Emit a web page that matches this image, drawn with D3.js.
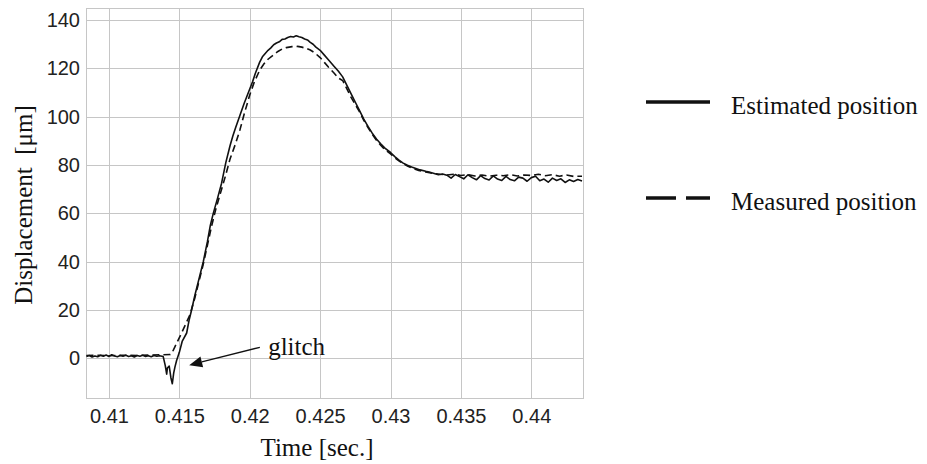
<!DOCTYPE html>
<html>
<head>
<meta charset="utf-8">
<script src="https://cdn.jsdelivr.net/npm/d3@7"></script>
<style>
  body { margin: 0; background: #fff; }
  svg { display: block; }
</style>
</head>
<body>
<svg id="chart" width="927" height="464"></svg>
<script>
// Data

// estimated position (solid line) - time [s], displacement [um]
var estTime = [
  0.4084, 0.4086, 0.4088, 0.4090, 0.4092, 0.4094, 0.4096, 0.4098, 0.4100, 0.4102,
  0.4104, 0.4106, 0.4108, 0.4110, 0.4112, 0.4114, 0.4116, 0.4118, 0.4120, 0.4122,
  0.4124, 0.4126, 0.4128, 0.4130, 0.4132, 0.4134, 0.4136, 0.41385, 0.4140, 0.4141,
  0.41415, 0.41428, 0.4144, 0.4145, 0.4146, 0.41469, 0.4148, 0.4150, 0.4152, 0.41552,
  0.4157, 0.41587, 0.4161, 0.4164, 0.4167, 0.4170, 0.4172, 0.41741, 0.4177, 0.4180,
  0.4183, 0.4186, 0.4188, 0.4190, 0.4193, 0.4196, 0.4198, 0.4200, 0.4202, 0.4204,
  0.4207, 0.4209, 0.4211, 0.4213, 0.4215, 0.4217, 0.4219, 0.4221, 0.4223, 0.4225,
  0.4227, 0.4229, 0.4231, 0.4233, 0.4235, 0.4237, 0.4239, 0.4241, 0.4243, 0.4245,
  0.4247, 0.4250, 0.4253, 0.4256, 0.4260, 0.4263, 0.4266, 0.4269, 0.4272, 0.4275,
  0.4278, 0.4281, 0.4284, 0.4287, 0.4290, 0.4293, 0.4296, 0.4300, 0.4303, 0.4306,
  0.4309, 0.4312, 0.4315, 0.4318, 0.4321, 0.4325, 0.4328, 0.4331, 0.4334, 0.4337,
  0.4340, 0.4343, 0.4346, 0.4349, 0.4352, 0.4355, 0.4358, 0.4361, 0.4364, 0.4367,
  0.4370, 0.4373, 0.4376, 0.4379, 0.4382, 0.4385, 0.4388, 0.4391, 0.4394, 0.4397,
  0.4400, 0.4403, 0.4406, 0.4409, 0.4412, 0.4415, 0.4418, 0.4421, 0.4424, 0.4427,
  0.4430, 0.4433, 0.4436
];
var estPos = [
  0.8, 1.2, 0.6, 1.0, 0.7, 1.3, 0.9, 1.4, 0.8, 1.5,
  1.0, 0.7, 1.2, 0.9, 1.3, 0.8, 1.1, 0.6, 1.2, 0.9,
  1.3, 0.8, 1.1, 0.7, 1.2, 0.9, 1.1, 0.8, -3.0, -6.5,
  -4.0, -3.2, -8.0, -10.5, -6.0, -3.5, -1.0, 2.5, 7.0, 10.5,
  16, 20, 26, 33, 40, 48.5, 55, 60, 66, 72.5,
  81, 88, 92, 95.5, 100.5, 105.5, 108.5, 111.5, 114.5, 118,
  122.5, 124.8, 126.2, 127.5, 128.5, 129.8, 130.5, 131, 132, 132.2,
  132.8, 133.2, 133, 133.5, 133.1, 132.8, 132.2, 131.8, 130.8, 130,
  128.8, 127.5, 125.5, 123.5, 120.8, 118.8, 116.5, 113, 109.5, 106,
  102.5, 99, 96, 93.2, 90.8, 88.8, 87, 85.2, 83.5, 82,
  80.8, 79.9, 79.2, 78.6, 78, 77.4, 77.0, 76.5, 76.0, 76.3,
  75.8, 74.6, 76.1, 75.2, 74.3, 76.0, 74.8, 73.9, 75.6, 74.4,
  73.8, 75.5, 74.2, 73.6, 75.3, 74.0, 73.5, 75.0, 74.6, 73.3,
  74.8, 75.4, 73.5, 74.2, 72.9, 74.6, 73.6, 74.3, 72.8, 73.9,
  73.2, 74.0, 73.4
];

// measured position (dashed line)
var measTime = [
  0.4084, 0.4090, 0.4100, 0.4110, 0.4120, 0.4130, 0.4138, 0.41435, 0.4145, 0.4147,
  0.41516, 0.41575, 0.4161, 0.4164, 0.4167, 0.4170, 0.4173, 0.4176, 0.4180, 0.4183,
  0.4186, 0.4190, 0.4193, 0.4196, 0.4200, 0.4203, 0.4207, 0.4210, 0.4213, 0.4217,
  0.4220, 0.4223, 0.4226, 0.4230, 0.4234, 0.4237, 0.4240, 0.4243, 0.4246, 0.4250,
  0.4253, 0.4256, 0.4260, 0.4263, 0.4266, 0.4269, 0.4272, 0.4275, 0.4278, 0.4281,
  0.4284, 0.4287, 0.4290, 0.4293, 0.4296, 0.4300, 0.4304, 0.4308, 0.4312, 0.4316,
  0.4320, 0.4325, 0.4330, 0.4335, 0.4340, 0.4345, 0.4350, 0.4355, 0.4360, 0.4365,
  0.4370, 0.4375, 0.4380, 0.4385, 0.4390, 0.4395, 0.4400, 0.4405, 0.4410, 0.4415,
  0.4420, 0.4425, 0.4430, 0.4436
];
var measPos = [
  1.2, 1.3, 1.1, 1.3, 1.2, 1.4, 1.5, 1.6, 2.5, 5,
  10.5, 18, 25, 32, 39, 47, 55, 62, 70, 76,
  82.5, 89, 94.5, 101, 109, 114, 119.2, 121.8, 123.8, 125.6,
  127, 128, 128.6, 129, 129.1, 128.8, 128.3, 127.6, 126.5, 124.5,
  122.5, 120.5, 118, 116, 115, 111.5, 108, 105, 102, 98.5,
  95.5, 92.8, 90.3, 88.2, 86.4, 84.6, 82.6, 80.9, 79.6, 78.6,
  77.8, 77.1, 76.6, 76.2, 75.9, 76.2, 75.7, 76.0, 75.5, 75.9,
  75.4, 75.8, 75.6, 76.0, 75.5, 75.9, 75.7, 76.2, 75.6, 76.0,
  75.4, 75.9, 75.3, 75.4
];

var xTicks = [0.41, 0.415, 0.42, 0.425, 0.43, 0.435, 0.44];
var yTicks = [0, 20, 40, 60, 80, 100, 120, 140];
var xDomain = [0.40837, 0.44367];
var yDomain = [-16.4, 145];

var legendLabels = ['Estimated position', 'Measured position'];

// glitch note: label anchor and arrow (data coords)
var glitchText = 'glitch';
var glitchLabel = [0.42131, 1.4];
var glitchArrow = [[0.42072, 4.6], [0.41570, -2.8]];

// Layout
var svg = d3.select('#chart');
var plot = { left: 86, right: 583, top: 8, bottom: 398 };
var gridColor = '#c6c6c6';
var sans = 'Liberation Sans, Arial, sans-serif';
var serif = 'Liberation Serif, Times New Roman, serif';

var x = d3.scaleLinear().domain(xDomain).range([plot.left, plot.right]);
var y = d3.scaleLinear().domain(yDomain).range([plot.bottom, plot.top]);

// grid
var grid = svg.append('g');
grid.selectAll('.vg').data(xTicks).enter().append('line')
    .attr('x1', function(d) { return Math.round(x(d)) + 0.5; })
    .attr('x2', function(d) { return Math.round(x(d)) + 0.5; })
    .attr('y1', plot.top).attr('y2', plot.bottom)
    .attr('stroke', gridColor).attr('stroke-width', 1);
grid.selectAll('.hg').data(yTicks).enter().append('line')
    .attr('x1', plot.left).attr('x2', plot.right)
    .attr('y1', function(d) { return Math.round(y(d)) + 0.5; })
    .attr('y2', function(d) { return Math.round(y(d)) + 0.5; })
    .attr('stroke', gridColor).attr('stroke-width', 1);

// frame
svg.append('rect')
    .attr('x', plot.left + 0.5).attr('y', plot.top + 0.5)
    .attr('width', plot.right - plot.left).attr('height', plot.bottom - plot.top)
    .attr('fill', 'none').attr('stroke', gridColor).attr('stroke-width', 1);

// tick labels
var xAxis = svg.append('g')
    .attr('transform', 'translate(0,' + plot.bottom + ')')
    .call(d3.axisBottom(x).tickValues(xTicks).tickSize(0).tickPadding(11)
        .tickFormat(function(d) { return String(+d.toFixed(3)); }));
var yAxis = svg.append('g')
    .attr('transform', 'translate(' + plot.left + ',0)')
    .call(d3.axisLeft(y).tickValues(yTicks).tickSize(0).tickPadding(6));
[xAxis, yAxis].forEach(function(a) {
    a.select('.domain').remove();
    a.selectAll('text')
        .attr('font-family', sans)
        .attr('font-size', '20px')
        .attr('fill', '#222');
});

// lines
var clipId = 'plotclip';
svg.append('clipPath').attr('id', clipId).append('rect')
    .attr('x', plot.left).attr('y', plot.top)
    .attr('width', plot.right - plot.left).attr('height', plot.bottom - plot.top);

var line = d3.line()
    .x(function(d) { return x(d[0]); })
    .y(function(d) { return y(d[1]); });

var measured = d3.zip(measTime, measPos);
var estimated = d3.zip(estTime, estPos);

svg.append('path')
    .datum(measured)
    .attr('clip-path', 'url(#' + clipId + ')')
    .attr('d', line)
    .attr('fill', 'none')
    .attr('stroke', '#111')
    .attr('stroke-width', 1.6)
    .attr('stroke-dasharray', '7,4');

svg.append('path')
    .datum(estimated)
    .attr('clip-path', 'url(#' + clipId + ')')
    .attr('d', line)
    .attr('fill', 'none')
    .attr('stroke', '#111')
    .attr('stroke-width', 1.6)
    .attr('stroke-linejoin', 'round');

// glitch annotation
var tail = [x(glitchArrow[0][0]), y(glitchArrow[0][1])];
var tip = [x(glitchArrow[1][0]), y(glitchArrow[1][1])];
var dx = tail[0] - tip[0], dy = tail[1] - tip[1];
var len = Math.sqrt(dx * dx + dy * dy);
var ux = dx / len, uy = dy / len;
var headLen = 13, headHalf = 5.5;
var base = [tip[0] + ux * headLen, tip[1] + uy * headLen];

svg.append('line')
    .attr('x1', tail[0]).attr('y1', tail[1])
    .attr('x2', base[0]).attr('y2', base[1])
    .attr('stroke', '#111').attr('stroke-width', 1.3);
svg.append('path')
    .attr('d', 'M' + tip[0] + ',' + tip[1] +
        'L' + (base[0] - uy * headHalf) + ',' + (base[1] + ux * headHalf) +
        'L' + (base[0] + uy * headHalf) + ',' + (base[1] - ux * headHalf) + 'Z')
    .attr('fill', '#111');
svg.append('text')
    .attr('x', x(glitchLabel[0])).attr('y', y(glitchLabel[1]))
    .attr('font-family', serif).attr('font-size', '25px').attr('fill', '#111')
    .text(glitchText);

// axis titles
svg.append('text')
    .attr('transform', 'translate(32,' + 205 + ') rotate(-90)')
    .attr('text-anchor', 'middle')
    .attr('font-family', serif).attr('font-size', '25px').attr('fill', '#111')
    .style('white-space', 'pre')
    .text('Displacement  [\u03bcm]');
svg.append('text')
    .attr('x', 317).attr('y', 456)
    .attr('text-anchor', 'middle')
    .attr('font-family', serif).attr('font-size', '25px').attr('fill', '#111')
    .text('Time [sec.]');

// legend
var legend = svg.append('g');
var legendY = [102, 198];
legend.selectAll('line').data(legendLabels).enter().append('line')
    .attr('x1', 646).attr('x2', 710)
    .attr('y1', function(d, i) { return legendY[i]; })
    .attr('y2', function(d, i) { return legendY[i]; })
    .attr('stroke', '#111').attr('stroke-width', 3.5)
    .attr('stroke-dasharray', function(d, i) { return i === 1 ? '30,10' : null; });
legend.selectAll('text').data(legendLabels).enter().append('text')
    .attr('x', 731)
    .attr('y', function(d, i) { return legendY[i] + 6; })
    .attr('dominant-baseline', 'middle')
    .attr('font-family', serif).attr('font-size', '25px').attr('fill', '#111')
    .text(function(d) { return d; });
</script>
</body>
</html>
